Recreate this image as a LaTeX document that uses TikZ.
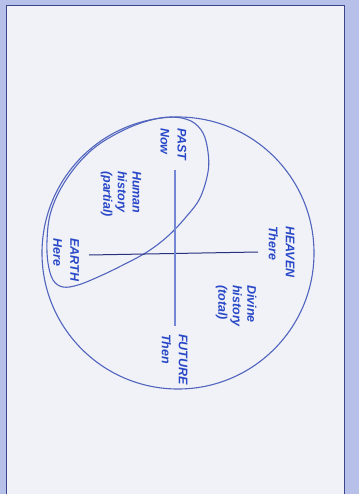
\documentclass[tikz,border=0pt]{standalone}
\usepackage{fontspec}
\setmainfont{Liberation Sans}
\usetikzlibrary{positioning}
\definecolor{inkblue}{RGB}{40,72,200}
\definecolor{linedark}{RGB}{38,48,125}
\definecolor{linemid}{RGB}{80,100,190}
\definecolor{linelight}{RGB}{115,135,210}
\definecolor{bandblue}{RGB}{182,192,232}
\definecolor{panelgray}{RGB}{241,242,247}
\definecolor{framedark}{RGB}{60,70,140}

\begin{document}
\begin{tikzpicture}[
  x=1pt, y=-1pt,
  lbl/.style={text=inkblue, font=\bfseries\itshape\fontsize{12.5}{17}\selectfont,
              rotate=-90, anchor=west, align=left, inner sep=0pt},
  hist/.style={lbl, font=\bfseries\itshape\fontsize{12.5}{14.5}\selectfont},
  axisline/.style={line width=1pt}
]
\useasboundingbox (0,0) rectangle (359,494);
% page and panel
\fill[bandblue] (0,0) rectangle (359,494);
\fill[panelgray] (6,5) rectangle (344,494);
\draw[framedark, line width=0.8pt] (6,494) -- (6,5) -- (344,5) -- (344,494);

% whole of history
\draw[linemid, line width=1.1pt] (178,253) circle [radius=136pt];
% human history (partial)
\draw[linemid, line width=1.1pt] plot[smooth cycle, tension=0.6] coordinates {
  (172,117) (191,121) (203,133) (208,152) (208,172) (200,198) (186,217)
  (168,236) (147,252) (121,266) (98,277) (78,285) (63,287) (53,280)
  (48,263) (47,241) (50,215) (60,190) (77,165) (98,145) (126,129) (151,120)};

% axes
\coordinate (earthend) at (89,255);
\coordinate (heavenend) at (258,252);
\coordinate (pastend) at (175,170);
\coordinate (futureend) at (175,326);
\draw[axisline, linedark] (earthend) -- (heavenend);
\draw[axisline, linelight, line width=1.4pt] (pastend) -- (futureend);

\node[lbl] (past) at (173.5,128) {PAST\\Now};
\node[hist] (human) at (121,171) {Human\\history\\(partial)};
\node[lbl] (earth) at (66,238) {EARTH\\Here};
\node[lbl] (heaven) at (281.5,226) {HEAVEN\\There};
\node[hist] (divine) at (236,285) {Divine\\history\\(total)};
\node[lbl] (future) at (174.5,334) {FUTURE\\Then};
\end{tikzpicture}
\end{document}
